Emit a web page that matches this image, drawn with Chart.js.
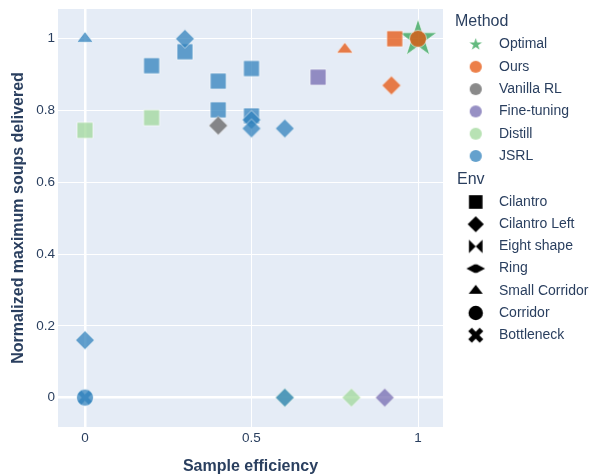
<!DOCTYPE html>
<html lang="en">
<head>
  <meta charset="UTF-8">
  <title>Sample efficiency vs normalized soups delivered</title>
  <script src="https://cdn.jsdelivr.net/npm/chart.js"></script>
  <style>
    body {
      margin: 0;
      background: #fff;
    }

    #chartContainer {
      width: 591px;
      height: 476px;
    }
  </style>
</head>
<body>

  <div id="chartContainer">
    <canvas id="scatterChart" width="591" height="476"></canvas>
  </div>

  <script>
    // legend entries
    const methods = ['Optimal', 'Ours', 'Vanilla RL', 'Fine-tuning', 'Distill', 'JSRL'];
    const envs = ['Cilantro', 'Cilantro Left', 'Eight shape', 'Ring', 'Small Corridor', 'Corridor', 'Bottleneck'];

    // points per method (x = sample efficiency, y = normalized max soups)
    const optimalX = [1];
    const optimalY = [1];
    const optimalEnv = ['Corridor'];

    const oursX = [0.78, 0.93, 0.92, 1];
    const oursY = [0.97, 1, 0.87, 1];
    const oursEnv = ['Small Corridor', 'Cilantro', 'Cilantro Left', 'Corridor'];

    const vanillaX = [0.4];
    const vanillaY = [0.758];
    const vanillaEnv = ['Cilantro Left'];

    const fineTuneX = [0.7, 0.9];
    const fineTuneY = [0.893, 0];
    const fineTuneEnv = ['Cilantro', 'Cilantro Left'];

    const distillX = [0, 0.2, 0.6, 0.8];
    const distillY = [0.745, 0.78, 0, 0];
    const distillEnv = ['Cilantro', 'Cilantro', 'Cilantro Left', 'Cilantro Left'];

    const jsrlX = [0, 0, 0, 0, 0.2, 0.3, 0.3, 0.4, 0.4, 0.5, 0.5, 0.5, 0.5, 0.6, 0.6];
    const jsrlY = [1, 0.16, 0, 0, 0.925, 0.964, 1, 0.882, 0.802, 0.917, 0.785, 0.774, 0.75, 0.75, 0];
    const jsrlEnv = ['Small Corridor', 'Cilantro Left', 'Bottleneck', 'Corridor', 'Cilantro', 'Cilantro',
      'Cilantro Left', 'Cilantro', 'Cilantro', 'Cilantro', 'Cilantro', 'Cilantro Left', 'Cilantro Left',
      'Cilantro Left', 'Cilantro Left'];

    const xTicks = [0, 0.5, 1];
    const yTicks = [0, 0.2, 0.4, 0.6, 0.8, 1];

    // styling
    const colors = {
      'Optimal': '#31a354',
      'Ours': '#e6550d',
      'Vanilla RL': '#636363',
      'Fine-tuning': '#756bb1',
      'Distill': '#a1d99b',
      'JSRL': '#3182bd'
    };
    const shapeOf = {
      'Cilantro': 'square',
      'Cilantro Left': 'diamond',
      'Eight shape': 'bowtie',
      'Ring': 'ring',
      'Small Corridor': 'triangle',
      'Corridor': 'circle',
      'Bottleneck': 'x'
    };
    const textColor = '#2a3f5f';
    const fontFamily = '"Liberation Sans", Arial, sans-serif';

    function tracePath(g, shape, s) {
      if (shape === 'square') {
        g.rect(-8 * s, -8 * s, 16 * s, 16 * s);
      } else if (shape === 'diamond') {
        const d = 9.5 * s;
        g.moveTo(0, -d); g.lineTo(d, 0); g.lineTo(0, d); g.lineTo(-d, 0); g.closePath();
      } else if (shape === 'triangle') {
        const r = 7.2 * s;
        g.moveTo(0, -r); g.lineTo(1.155 * r, r / 2); g.lineTo(-1.155 * r, r / 2); g.closePath();
      } else if (shape === 'circle') {
        g.arc(0, 0, 8.5 * s, 0, Math.PI * 2);
      } else if (shape === 'bowtie') {
        const a = 8 * s;
        g.moveTo(-a, -a); g.lineTo(0, 0); g.lineTo(-a, a); g.closePath();
        g.moveTo(a, -a); g.lineTo(0, 0); g.lineTo(a, a); g.closePath();
      } else if (shape === 'ring') {
        const w = 11 * s, h = 5 * s, m = 1.5 * s;
        g.moveTo(-w, 0); g.lineTo(-m, -h); g.lineTo(m, -h); g.lineTo(w, 0);
        g.lineTo(m, h); g.lineTo(-m, h); g.closePath();
      } else if (shape === 'x') {
        const a = 9.5 * s, t = 3 * s;
        const pts = [[t, -a], [t, -t], [a, -t], [a, t], [t, t], [t, a], [-t, a], [-t, t], [-a, t], [-a, -t], [-t, -t], [-t, -a]];
        const c = Math.SQRT1_2;
        pts.forEach(([px, py], i) => {
          const rx = (px - py) * c, ry = (px + py) * c;
          if (i === 0) g.moveTo(rx, ry); else g.lineTo(rx, ry);
        });
        g.closePath();
      } else if (shape === 'star') {
        const R = 20 * s, r = R * 0.382;
        for (let i = 0; i < 10; i++) {
          const rad = (i % 2 === 0) ? R : r;
          const ang = -Math.PI / 2 + i * Math.PI / 5;
          const px = Math.cos(ang) * rad, py = Math.sin(ang) * rad;
          if (i === 0) g.moveTo(px, py); else g.lineTo(px, py);
        }
        g.closePath();
      }
    }

    const markerCache = {};
    function marker(shape, color, s, alpha, outline) {
      const key = [shape, color, s, alpha, outline].join('|');
      if (markerCache[key]) return markerCache[key];
      const dim = Math.ceil(44 * s) + 4;
      const tmp = document.createElement('canvas');
      tmp.width = tmp.height = dim;
      const g = tmp.getContext('2d');
      g.translate(dim / 2, dim / 2);
      g.beginPath();
      tracePath(g, shape, s);
      g.fillStyle = color;
      g.fill();
      if (outline) {
        g.strokeStyle = 'rgba(255,255,255,0.75)';
        g.lineWidth = 1;
        g.stroke();
      }
      const out = document.createElement('canvas');
      out.width = out.height = dim;
      const o = out.getContext('2d');
      o.globalAlpha = alpha;
      o.drawImage(tmp, 0, 0);
      markerCache[key] = out;
      return out;
    }

    function makeDataset(name, xs, ys, envList) {
      return {
        label: name,
        data: xs.map((x, i) => ({ x: x, y: ys[i] })),
        pointStyle: envList.map(e => {
          const shape = name === 'Optimal' ? 'star' : shapeOf[e];
          return marker(shape, colors[name], shape === 'x' ? 0.85 : 1, 0.75, true);
        }),
        pointRadius: 8
      };
    }

    // dataset 0 is drawn on top
    const datasets = [
      makeDataset('Ours', oursX, oursY, oursEnv),
      makeDataset('Optimal', optimalX, optimalY, optimalEnv),
      makeDataset('Vanilla RL', vanillaX, vanillaY, vanillaEnv),
      makeDataset('Fine-tuning', fineTuneX, fineTuneY, fineTuneEnv),
      makeDataset('JSRL', jsrlX, jsrlY, jsrlEnv),
      makeDataset('Distill', distillX, distillY, distillEnv)
    ];

    const plotBackground = {
      id: 'plotBackground',
      beforeDraw(chart) {
        const { ctx, chartArea: a } = chart;
        ctx.save();
        ctx.fillStyle = '#fff';
        ctx.fillRect(0, 0, chart.width, chart.height);
        ctx.fillStyle = '#e5ecf6';
        ctx.fillRect(a.left, a.top, a.right - a.left, a.bottom - a.top);
        ctx.restore();
      }
    };

    const groupedLegend = {
      id: 'groupedLegend',
      afterDraw(chart) {
        const ctx = chart.ctx;
        const markerX = 475.7;
        const textX = 499;
        ctx.save();
        ctx.fillStyle = textColor;
        ctx.textBaseline = 'middle';
        ctx.textAlign = 'left';

        ctx.font = '16px ' + fontFamily;
        ctx.fillText('Method', 455, 22);
        ctx.font = '14px ' + fontFamily;
        methods.forEach((m, i) => {
          const y = 44.5 + i * 22.3;
          const img = m === 'Optimal'
            ? marker('star', colors[m], 0.33, 0.75, false)
            : marker('circle', colors[m], 0.72, 0.75, false);
          ctx.drawImage(img, markerX - img.width / 2, y - img.height / 2);
          ctx.fillStyle = textColor;
          ctx.fillText(m, textX, y);
        });

        ctx.font = '16px ' + fontFamily;
        ctx.fillText('Env', 457, 180);
        ctx.font = '14px ' + fontFamily;
        envs.forEach((e, i) => {
          const y = 202 + i * 22.2;
          const img = marker(shapeOf[e], '#000', 0.85, 1, false);
          ctx.drawImage(img, markerX - img.width / 2, y - img.height / 2);
          ctx.fillStyle = textColor;
          ctx.fillText(e, textX, y);
        });
        ctx.restore();
      }
    };

    const gridWidth = (c) => (c.tick && c.tick.value === 0 ? 2.5 : 1);

    const ctx = document.getElementById('scatterChart').getContext('2d');
    const chart = new Chart(ctx, {
      type: 'scatter',
      data: { datasets: datasets },
      options: {
        responsive: false,
        animation: false,
        events: [],
        layout: {
          padding: { top: 5, right: 148, left: 0, bottom: 0 }
        },
        plugins: {
          legend: { display: false },
          tooltip: { enabled: false }
        },
        scales: {
          x: {
            type: 'linear',
            min: -0.081,
            max: 1.075,
            afterBuildTicks: (scale) => { scale.ticks = xTicks.map(v => ({ value: v })); },
            afterFit: (scale) => {
              scale.height = 49;
              scale.paddingLeft = 0;
              scale.paddingRight = 0;
            },
            border: { display: false },
            grid: { color: '#fff', lineWidth: gridWidth, drawTicks: false },
            ticks: {
              padding: 3,
              color: textColor,
              font: { family: fontFamily, size: 13.5 },
              callback: (v) => String(v)
            },
            title: {
              display: true,
              text: 'Sample efficiency',
              color: textColor,
              padding: { top: 0, bottom: 0 },
              font: { family: fontFamily, size: 16, weight: 'bold' }
            }
          },
          y: {
            type: 'linear',
            min: -0.082,
            max: 1.083,
            afterBuildTicks: (scale) => { scale.ticks = yTicks.map(v => ({ value: v })); },
            afterFit: (scale) => {
              scale.width = 58;
              scale.paddingTop = 0;
              scale.paddingBottom = 0;
            },
            border: { display: false },
            grid: { color: '#fff', lineWidth: gridWidth, drawTicks: false },
            ticks: {
              padding: 3,
              color: textColor,
              font: { family: fontFamily, size: 13.5 },
              callback: (v) => String(v)
            },
            title: {
              display: true,
              text: 'Normalized maximum soups delivered',
              color: textColor,
              padding: { top: 9, bottom: 0 },
              font: { family: fontFamily, size: 16, weight: 'bold' }
            }
          }
        }
      },
      plugins: [plotBackground, groupedLegend]
    });
  </script>

</body>
</html>
